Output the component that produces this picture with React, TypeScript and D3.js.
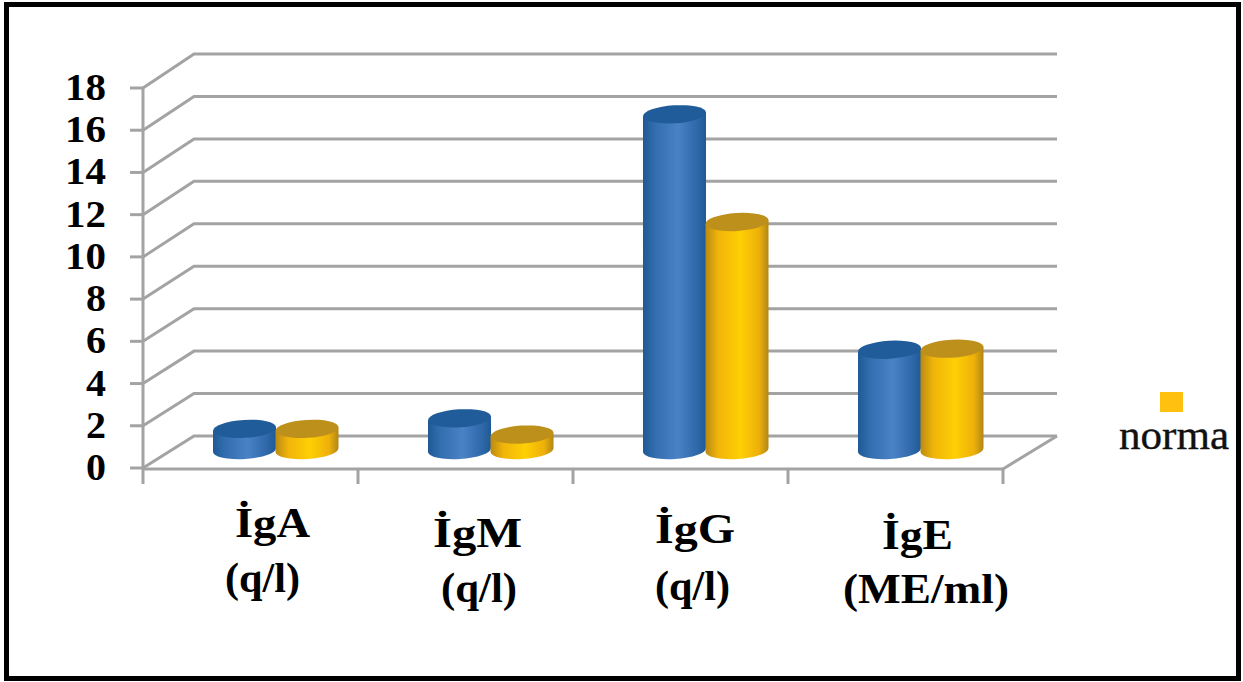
import React from "react";
import * as d3 from "d3";

const categories = ["İgA", "İgM", "İgG", "İgE"];
const units = ["(q/l)", "(q/l)", "(q/l)", "(ME/ml)"];
const patientValues = [1.0, 1.5, 15.9, 4.75];
const normaValues = [1.0, 0.73, 10.8, 4.8];
const yTicks = [0, 2, 4, 6, 8, 10, 12, 14, 16, 18];
const legendLabel = "norma";

const W = 1243;
const H = 682;
const frontLeft = 143;
const frontRight = 1003;
const backLeft = 194;
const backRight = 1057;
const axisBottom = 484;

// Label placement per category: left edge, width and baseline of the name, then of the unit
const nameSpots = [
  [235, 75, 537],
  [433, 89, 547],
  [655, 80, 543],
  [882, 71, 549],
];
const unitSpots = [
  [225, 75, 592],
  [441, 76, 602],
  [655, 75, 600],
  [843, 166, 603],
];

const x = d3.scaleBand<string>().domain(categories).range([frontLeft, frontRight]);
const y = d3.scaleLinear().domain([0, 18]).range([468, 88]);
const yBack = d3.scaleLinear().domain([0, 18]).range([436, 54]);

const grid = "#a3a3a3";
const barWidth = 63;
const ry = 9;
const tilt = -3.5;
const barShift = 70;
const barLift = 18;

function Cylinder({ left, value, kind }: { left: number; value: number; kind: "blue" | "gold" }) {
  const rx = barWidth / 2;
  const cx = left + rx;
  const yTop = y(value) - barLift;
  const yBase = y(0) - barLift;
  const dy = rx * Math.tan((tilt * Math.PI) / 180);
  const body = `M${cx - rx},${yTop - dy} L${cx + rx},${yTop + dy} L${cx + rx},${yBase + dy} A${rx},${ry} ${tilt} 0 1 ${cx - rx},${yBase - dy} Z`;
  return (
    <g>
      <path d={body} fill={`url(#${kind}Side)`} />
      <ellipse
        cx={cx}
        cy={yTop}
        rx={rx}
        ry={ry}
        transform={`rotate(${tilt} ${cx} ${yTop})`}
        fill={kind === "blue" ? "#205c99" : "#bd901c"}
      />
    </g>
  );
}

export default function App() {
  return (
    <svg
      width={W}
      height={H}
      viewBox={`0 0 ${W} ${H}`}
      style={{ position: "fixed", left: 0, top: 0, background: "#fff", display: "block" }}
    >
      <defs>
        <linearGradient id="blueSide" x1="0" x2="1" y1="0" y2="0">
          <stop offset="0" stopColor="#1f5a96" />
          <stop offset="0.2" stopColor="#336eb0" />
          <stop offset="0.55" stopColor="#4a82c6" />
          <stop offset="0.85" stopColor="#2f69aa" />
          <stop offset="1" stopColor="#1f5a96" />
        </linearGradient>
        <linearGradient id="goldSide" x1="0" x2="1" y1="0" y2="0">
          <stop offset="0" stopColor="#b98a14" />
          <stop offset="0.2" stopColor="#f0b40a" />
          <stop offset="0.55" stopColor="#ffcf04" />
          <stop offset="0.85" stopColor="#eeb00a" />
          <stop offset="1" stopColor="#b08616" />
        </linearGradient>
      </defs>

      <rect x={6.5} y={4.5} width={1232} height={674} fill="#fff" stroke="#000" strokeWidth={5} />

      {/* Back wall gridlines with their side wall returns */}
      {yTicks.map((t) => (
        <g key={t} stroke={grid} strokeWidth={3} fill="none">
          <path d={`M${frontLeft},${y(t)} L${backLeft},${yBack(t)} L${backRight},${yBack(t)}`} />
          <line x1={frontLeft - 13} x2={frontLeft} y1={y(t)} y2={y(t)} />
        </g>
      ))}

      {/* Floor and front axes */}
      <g stroke={grid} strokeWidth={3} fill="none">
        <line x1={frontLeft} x2={frontLeft} y1={y(18)} y2={axisBottom} />
        <line x1={frontLeft} x2={frontRight} y1={y(0) + 1} y2={y(0) + 1} />
        <line x1={frontRight} x2={backRight} y1={y(0) + 1} y2={yBack(0)} />
        {d3.range(1, categories.length + 1).map((i) => (
          <line key={i} x1={frontLeft + i * x.step()} x2={frontLeft + i * x.step()} y1={y(0)} y2={axisBottom} />
        ))}
      </g>

      {categories.map((c, i) => {
        const left = (x(c) as number) + barShift;
        return (
          <g key={c}>
            <Cylinder left={left} value={patientValues[i]} kind="blue" />
            <Cylinder left={left + barWidth - 0.5} value={normaValues[i]} kind="gold" />
          </g>
        );
      })}

      <g fontFamily="'Liberation Serif', serif" fontWeight="bold" fill="#000">
        {yTicks.map((t) => (
          <text
            key={t}
            x={106}
            y={y(t) + 12}
            fontSize={37}
            textAnchor="end"
            textLength={t >= 10 ? 41 : 20}
            lengthAdjust="spacingAndGlyphs"
          >
            {t}
          </text>
        ))}
        {categories.map((c, i) => (
          <g key={c}>
            <text
              x={nameSpots[i][0]}
              y={nameSpots[i][2]}
              fontSize={42}
              textLength={nameSpots[i][1]}
              lengthAdjust="spacingAndGlyphs"
            >
              {c}
            </text>
            <text
              x={unitSpots[i][0]}
              y={unitSpots[i][2]}
              fontSize={42}
              textLength={unitSpots[i][1]}
              lengthAdjust="spacingAndGlyphs"
            >
              {units[i]}
            </text>
          </g>
        ))}
      </g>

      <rect x={1160} y={392} width={23} height={20} fill="#ffc00f" />
      <text
        x={1119}
        y={449}
        fontFamily="'Liberation Serif', serif"
        fontSize={40}
        textLength={110}
        lengthAdjust="spacingAndGlyphs"
        fill="#111"
        stroke="#111"
        strokeWidth={0.4}
      >
        {legendLabel}
      </text>
    </svg>
  );
}
